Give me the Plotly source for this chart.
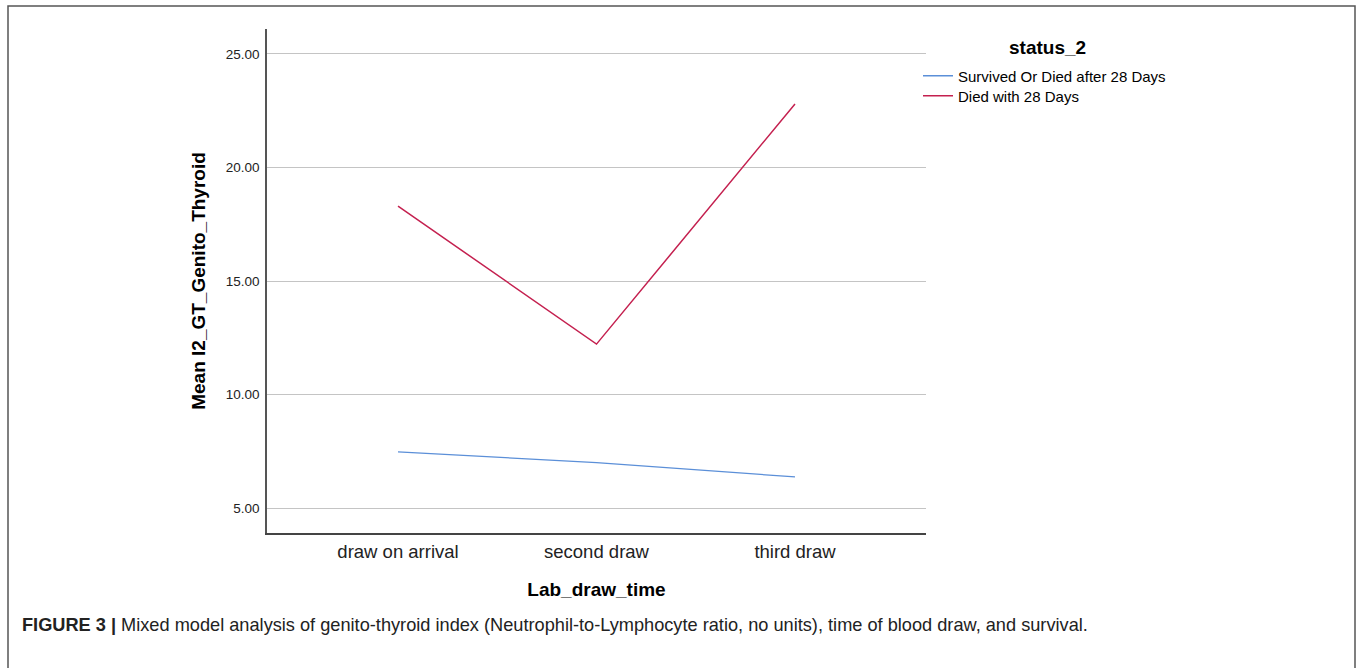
import plotly.graph_objects as go

# ---- data ----
categories = ["draw on arrival", "second draw", "third draw"]
survived_vals = [7.47, 7.00, 6.37]
died_vals = [18.30, 12.22, 22.80]
series_names = ["Survived Or Died after 28 Days", "Died with 28 Days"]
y_ticks = [5, 10, 15, 20, 25]
y_tick_labels = ["5.00", "10.00", "15.00", "20.00", "25.00"]

W, H = 1360, 668
L, R, T, B = 267, 434, 29, 135
PW, PH = W - L - R, H - T - B


def px_x(px):
    return (px - L) / PW


def px_y(py):
    return (H - B - py) / PH


FONT = "Liberation Sans, Arial, sans-serif"

fig = go.Figure()
fig.add_trace(go.Scatter(x=categories, y=survived_vals, mode="lines",
                         name=series_names[0], legend="legend",
                         line=dict(color="#5b8fd8", width=1.3)))
fig.add_trace(go.Scatter(x=categories, y=died_vals, mode="lines",
                         name=series_names[1], legend="legend2",
                         line=dict(color="#c4204f", width=1.5)))

legend_common = dict(
    xanchor="left", yanchor="middle",
    bgcolor="rgba(0,0,0,0)",
    font=dict(size=15, family=FONT, color="#000"),
    itemwidth=30,
)

fig.update_layout(
    width=W, height=H,
    margin=dict(l=L, r=R, t=T, b=B, autoexpand=False),
    paper_bgcolor="white", plot_bgcolor="white",
    font=dict(family=FONT, color="#000000"),
    showlegend=True,
    legend=dict(x=px_x(918), y=px_y(76), **legend_common),
    legend2=dict(x=px_x(918), y=px_y(96), **legend_common),
    xaxis=dict(
        type="category", range=[-0.66, 2.66],
        showgrid=False, zeroline=False,
        showline=True, linecolor="#444444", linewidth=1.5,
        ticks="outside", ticklen=1, tickcolor="rgba(0,0,0,0)",
        tickfont=dict(size=18.5, family=FONT, color="#222"),
        title=dict(text="<b>Lab_draw_time</b>", standoff=22,
                   font=dict(size=19, family=FONT, color="#000")),
    ),
    yaxis=dict(
        range=[3.9, 26.1],
        tickvals=y_ticks, ticktext=y_tick_labels,
        showgrid=True, gridcolor="#c4c4c4", gridwidth=1,
        zeroline=False,
        showline=True, linecolor="#555555", linewidth=1.5,
        ticks="outside", ticklen=3, tickcolor="rgba(0,0,0,0)",
        tickfont=dict(size=13.5, family=FONT, color="#222"),
        title=dict(text="<b>Mean I2_GT_Genito_Thyroid</b>", standoff=15,
                   font=dict(size=19, family=FONT, color="#000")),
    ),
)

# legend title
fig.add_annotation(
    xref="paper", yref="paper", x=px_x(1047), y=px_y(48),
    xanchor="center", yanchor="middle", showarrow=False,
    text="<b>status_2</b>",
    font=dict(size=19, family=FONT, color="#000"),
)

# outer frame of the figure panel
fig.add_shape(type="rect", xref="paper", yref="paper",
              x0=px_x(8), x1=px_x(1355), y0=px_y(700), y1=px_y(6),
              line=dict(color="#555555", width=1.5), fillcolor="rgba(0,0,0,0)",
              layer="below")

# caption
fig.add_annotation(
    xref="paper", yref="paper", x=px_x(20), y=px_y(625),
    xanchor="left", yanchor="middle", showarrow=False,
    text="<b>FIGURE 3 |</b> Mixed model analysis of genito-thyroid index (Neutrophil-to-Lymphocyte ratio, no units), time of blood draw, and survival.",
    font=dict(size=18.2, family=FONT, color="#222"),
)

fig.write_html("out.html",
               config={"displayModeBar": False},
               post_script="document.body.style.margin='0';document.body.style.overflow='hidden';")
